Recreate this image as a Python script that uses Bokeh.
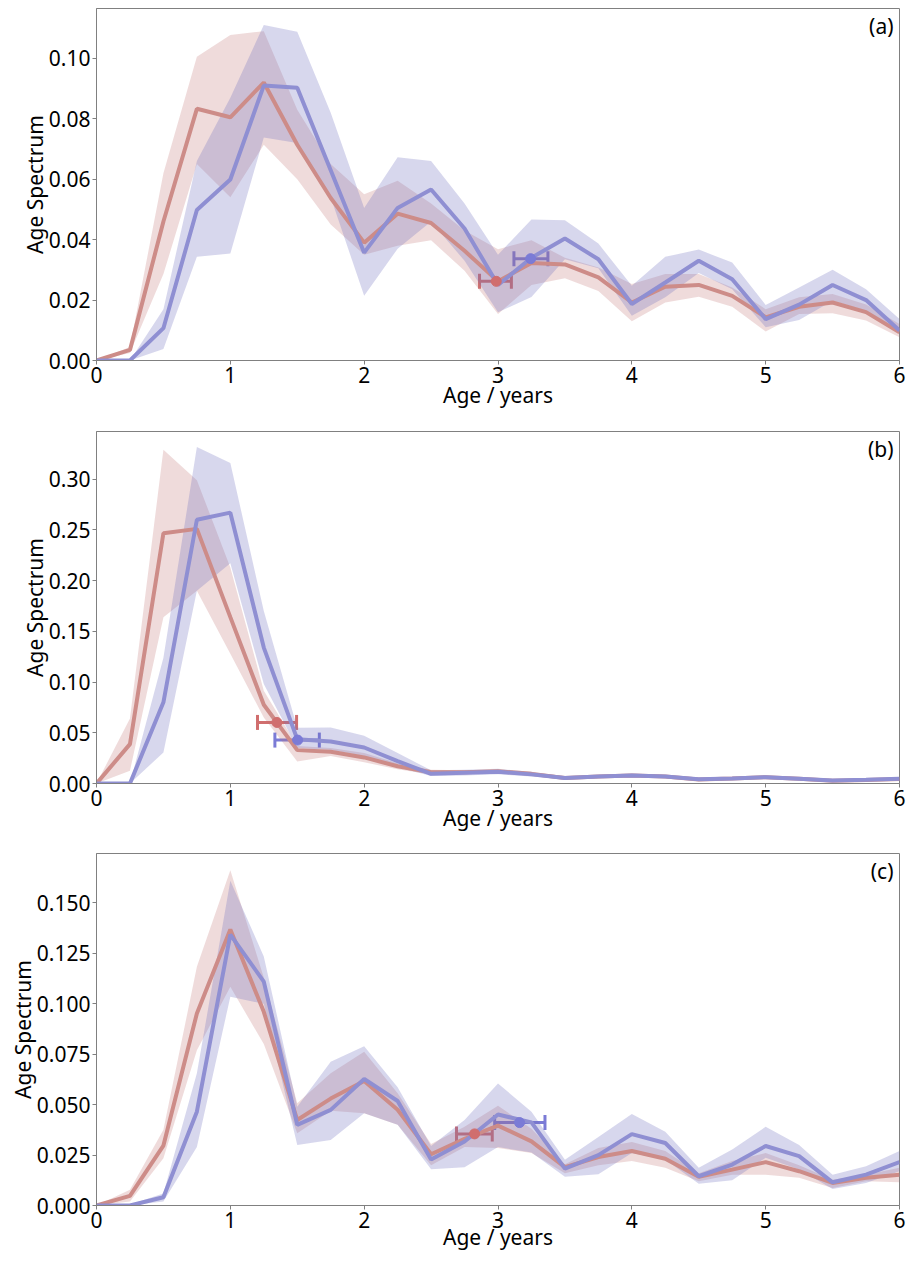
from bokeh.plotting import figure
from bokeh.models import Range1d, FixedTicker, PrintfTickFormatter, Label, Whisker, TeeHead, ColumnDataSource
from bokeh.layouts import column
from bokeh.embed import file_html
from bokeh.resources import INLINE

AGE = [0.0, 0.25, 0.5, 0.75, 1.0, 1.25, 1.5, 1.75, 2.0, 2.25, 2.5, 2.75, 3.0,
       3.25, 3.5, 3.75, 4.0, 4.25, 4.5, 4.75, 5.0, 5.25, 5.5, 5.75, 6.0]

# ---- panel (a)
A_RED = [0.0, 0.0035, 0.046, 0.0833, 0.0805, 0.092, 0.0714, 0.0538, 0.039, 0.0486, 0.0455, 0.0363, 0.0262,
         0.0323, 0.0318, 0.0275, 0.0192, 0.0244, 0.025, 0.0214, 0.0143, 0.0178, 0.0192, 0.016, 0.0093]
A_RED_HI = [0.0, 0.0045, 0.062, 0.1005, 0.1077, 0.109, 0.083, 0.065, 0.055, 0.0595, 0.052, 0.043, 0.0368,
            0.0398, 0.034, 0.0308, 0.0253, 0.0286, 0.0286, 0.0242, 0.017, 0.0209, 0.022, 0.0185, 0.0121]
A_RED_LO = [0.0, 0.0025, 0.0286, 0.065, 0.054, 0.0714, 0.060, 0.045, 0.035, 0.038, 0.0398, 0.0297, 0.0154,
            0.025, 0.0272, 0.023, 0.013, 0.0192, 0.0211, 0.0178, 0.0096, 0.0154, 0.0156, 0.0132, 0.0077]
A_BLUE = [0.0, 0.0, 0.0107, 0.0498, 0.0599, 0.091, 0.0903, 0.063, 0.0357, 0.0505, 0.0566, 0.0437, 0.025,
          0.034, 0.0404, 0.0335, 0.0187, 0.0258, 0.033, 0.0269, 0.0137, 0.0185, 0.025, 0.020, 0.0099]
A_BLUE_HI = [0.0, 0.0, 0.017, 0.066, 0.087, 0.111, 0.1088, 0.082, 0.0505, 0.0673, 0.066, 0.052, 0.035,
             0.0467, 0.0464, 0.0387, 0.0247, 0.0343, 0.0367, 0.0324, 0.0184, 0.0242, 0.030, 0.0236, 0.0137]
A_BLUE_LO = [0.0, 0.0, 0.0038, 0.0343, 0.0354, 0.0738, 0.072, 0.054, 0.0214, 0.037, 0.046, 0.033, 0.016,
             0.021, 0.0335, 0.0305, 0.0148, 0.0209, 0.029, 0.0236, 0.011, 0.0134, 0.0198, 0.0165, 0.0088]
A_MARK_RED = (2.987, 0.0262, 2.862, 3.10)
A_MARK_BLUE = (3.244, 0.0337, 3.119, 3.373)

# ---- panel (b)
B_RED = [0.0, 0.0388, 0.2467, 0.251, 0.164, 0.0776, 0.0329, 0.0313, 0.0257, 0.017, 0.011, 0.011, 0.012,
         0.0095, 0.0055, 0.0068, 0.008, 0.0068, 0.004, 0.005, 0.0062, 0.0048, 0.0028, 0.0035, 0.0045]
B_RED_HI = [0.0, 0.064, 0.329, 0.299, 0.213, 0.0915, 0.037, 0.035, 0.030, 0.020, 0.0135, 0.013, 0.0135,
            0.011, 0.0065, 0.0078, 0.009, 0.0077, 0.0048, 0.0058, 0.007, 0.0055, 0.0034, 0.0041, 0.0052]
B_RED_LO = [0.0, 0.0125, 0.164, 0.19, 0.128, 0.065, 0.0217, 0.027, 0.021, 0.014, 0.0088, 0.0095, 0.0105,
            0.008, 0.0045, 0.0058, 0.007, 0.0059, 0.0033, 0.0042, 0.0054, 0.0041, 0.0022, 0.0029, 0.0038]
B_BLUE = [0.0, 0.0, 0.08, 0.26, 0.267, 0.134, 0.0437, 0.0414, 0.0355, 0.022, 0.0095, 0.0105, 0.0115,
          0.009, 0.0055, 0.0068, 0.008, 0.0068, 0.0042, 0.005, 0.0062, 0.0048, 0.003, 0.0037, 0.0047]
B_BLUE_HI = [0.0, 0.0, 0.124, 0.3316, 0.316, 0.17, 0.055, 0.0553, 0.047, 0.030, 0.013, 0.0135, 0.0145,
             0.0115, 0.0072, 0.0085, 0.0098, 0.0085, 0.0055, 0.0064, 0.0078, 0.0062, 0.004, 0.0048, 0.006]
B_BLUE_LO = [0.0, 0.0, 0.0306, 0.19, 0.217, 0.098, 0.035, 0.033, 0.027, 0.016, 0.0075, 0.008, 0.009,
             0.007, 0.004, 0.0053, 0.0063, 0.0053, 0.003, 0.0038, 0.0048, 0.0036, 0.002, 0.0027, 0.0035]
B_MARK_RED = (1.348, 0.0602, 1.203, 1.495)
B_MARK_BLUE = (1.503, 0.0428, 1.333, 1.665)

# ---- panel (c)
C_RED = [0.0, 0.0048, 0.0297, 0.0952, 0.1368, 0.096, 0.0424, 0.053, 0.0617, 0.0475, 0.0254, 0.033, 0.0396,
         0.0318, 0.019, 0.024, 0.027, 0.0232, 0.0142, 0.0178, 0.0215, 0.017, 0.0112, 0.0137, 0.0153]
C_RED_HI = [0.0, 0.0078, 0.0375, 0.1183, 0.1662, 0.113, 0.0507, 0.0655, 0.0762, 0.0556, 0.0305, 0.039, 0.0494,
            0.038, 0.0205, 0.0285, 0.0315, 0.027, 0.016, 0.022, 0.026, 0.020, 0.0128, 0.0153, 0.0187]
C_RED_LO = [0.0, 0.002, 0.0234, 0.077, 0.1084, 0.080, 0.0358, 0.047, 0.0457, 0.040, 0.020, 0.029, 0.0285,
            0.026, 0.016, 0.020, 0.022, 0.0187, 0.012, 0.0153, 0.0153, 0.0137, 0.0087, 0.012, 0.0115]
C_BLUE = [0.0, 0.0, 0.0041, 0.0465, 0.1343, 0.111, 0.040, 0.0474, 0.0627, 0.0518, 0.0228, 0.0317, 0.0451,
          0.0412, 0.0183, 0.025, 0.0354, 0.031, 0.0145, 0.0203, 0.0295, 0.0245, 0.0115, 0.0153, 0.0215]
C_BLUE_HI = [0.0, 0.0005, 0.006, 0.0655, 0.161, 0.1235, 0.049, 0.0713, 0.079, 0.0586, 0.0295, 0.0424, 0.0605,
             0.0465, 0.0227, 0.034, 0.0453, 0.0365, 0.0187, 0.0278, 0.039, 0.030, 0.0153, 0.0195, 0.027]
C_BLUE_LO = [0.0, 0.0, 0.002, 0.029, 0.1035, 0.100, 0.030, 0.0325, 0.0457, 0.040, 0.018, 0.019, 0.029,
             0.0263, 0.0143, 0.0155, 0.026, 0.0228, 0.0108, 0.0125, 0.0237, 0.0178, 0.0082, 0.0112, 0.017]
C_MARK_RED = (2.825, 0.0355, 2.69, 2.957)
C_MARK_BLUE = (3.161, 0.0411, 2.975, 3.351)

X_TICKS = [0, 1, 2, 3, 4, 5, 6]
A_YTICKS = [0.0, 0.02, 0.04, 0.06, 0.08, 0.10]
B_YTICKS = [0.0, 0.05, 0.10, 0.15, 0.20, 0.25, 0.30]
C_YTICKS = [0.0, 0.025, 0.05, 0.075, 0.10, 0.125, 0.15]

FONT = "Noto Sans"
RED_LINE = "#cd8c88"
BLUE_LINE = "#8f8fd2"
RED_FILL = "#c07070"
BLUE_FILL = "#7070c0"
RED_MARK = "#d06e6e"
BLUE_MARK = "#7b7bd6"
AXIS_GREY = "#808080"
FH = 352


def panel(tag, ymax, yticks, fmt, red, red_hi, red_lo, blue, blue_hi, blue_lo, mred, mblue,
          top, bottom, xstand):
    p = figure(frame_width=803, frame_height=FH, x_range=Range1d(0, 6), y_range=Range1d(0, ymax),
               output_backend="svg", toolbar_location=None,
               min_border_left=96, min_border_right=8, min_border_top=top, min_border_bottom=bottom)
    p.xgrid.visible = False
    p.ygrid.visible = False
    p.outline_line_color = AXIS_GREY
    p.outline_line_width = 1
    p.background_fill_color = "white"
    p.border_fill_color = "white"

    p.varea(x=AGE, y1=red_lo, y2=red_hi, fill_color=RED_FILL, fill_alpha=0.25)
    p.varea(x=AGE, y1=blue_lo, y2=blue_hi, fill_color=BLUE_FILL, fill_alpha=0.28)
    p.line(x=AGE, y=red, line_color=RED_LINE, line_width=4)
    p.line(x=AGE, y=blue, line_color=BLUE_LINE, line_width=4)

    for (mx, my, lo, hi), col in ((mred, RED_MARK), (mblue, BLUE_MARK)):
        src = ColumnDataSource(dict(x=[mx], y=[my], lo=[lo], hi=[hi]))
        w = Whisker(base="y", lower="lo", upper="hi", dimension="width", source=src,
                    line_color=col, line_width=3,
                    lower_head=TeeHead(size=15, line_color=col, line_width=3),
                    upper_head=TeeHead(size=15, line_color=col, line_width=3))
        p.add_layout(w)
        p.scatter(x="x", y="y", source=src, size=10, fill_color=col, line_color=col)

    for ax in (p.xaxis[0], p.yaxis[0]):
        ax.axis_line_color = AXIS_GREY
        ax.major_tick_line_color = AXIS_GREY
        ax.major_tick_out = 4
        ax.major_tick_in = 0
        ax.minor_tick_out = 0
        ax.minor_tick_in = 0
        ax.major_label_text_font = FONT
        ax.major_label_text_font_size = "21px"
        ax.major_label_text_color = "black"
        ax.axis_label_text_font = FONT
        ax.axis_label_text_font_size = "21px"
        ax.axis_label_text_font_style = "normal"
        ax.axis_label_text_color = "black"
        ax.major_label_standoff = 2
    p.xaxis.axis_label_standoff = xstand
    p.yaxis.axis_label_standoff = -3

    p.xaxis.ticker = FixedTicker(ticks=X_TICKS)
    p.yaxis.ticker = FixedTicker(ticks=yticks)
    p.yaxis.formatter = PrintfTickFormatter(format=fmt)
    p.xaxis.axis_label = "Age / years"
    p.yaxis.axis_label = "Age Spectrum"

    p.add_layout(Label(x=6, y=ymax, x_offset=-6, y_offset=-3, text=tag, text_align="right",
                       text_baseline="top", text_font=FONT, text_font_size="21px", text_color="black"))
    return p


fa = panel("(a)", 0.1165, A_YTICKS, "%.2f", A_RED, A_RED_HI, A_RED_LO, A_BLUE, A_BLUE_HI, A_BLUE_LO,
           A_MARK_RED, A_MARK_BLUE, 8, 71, -5)
fb = panel("(b)", 0.347, B_YTICKS, "%.2f", B_RED, B_RED_HI, B_RED_LO, B_BLUE, B_BLUE_HI, B_BLUE_LO,
           B_MARK_RED, B_MARK_BLUE, 0, 70, -5)
fc = panel("(c)", 0.1745, C_YTICKS, "%.3f", C_RED, C_RED_HI, C_RED_LO, C_BLUE, C_BLUE_HI, C_BLUE_LO,
           C_MARK_RED, C_MARK_BLUE, 0, 55, -8)

layout = column(fa, fb, fc, spacing=0)
open("out.html", "w").write(file_html(layout, INLINE))
